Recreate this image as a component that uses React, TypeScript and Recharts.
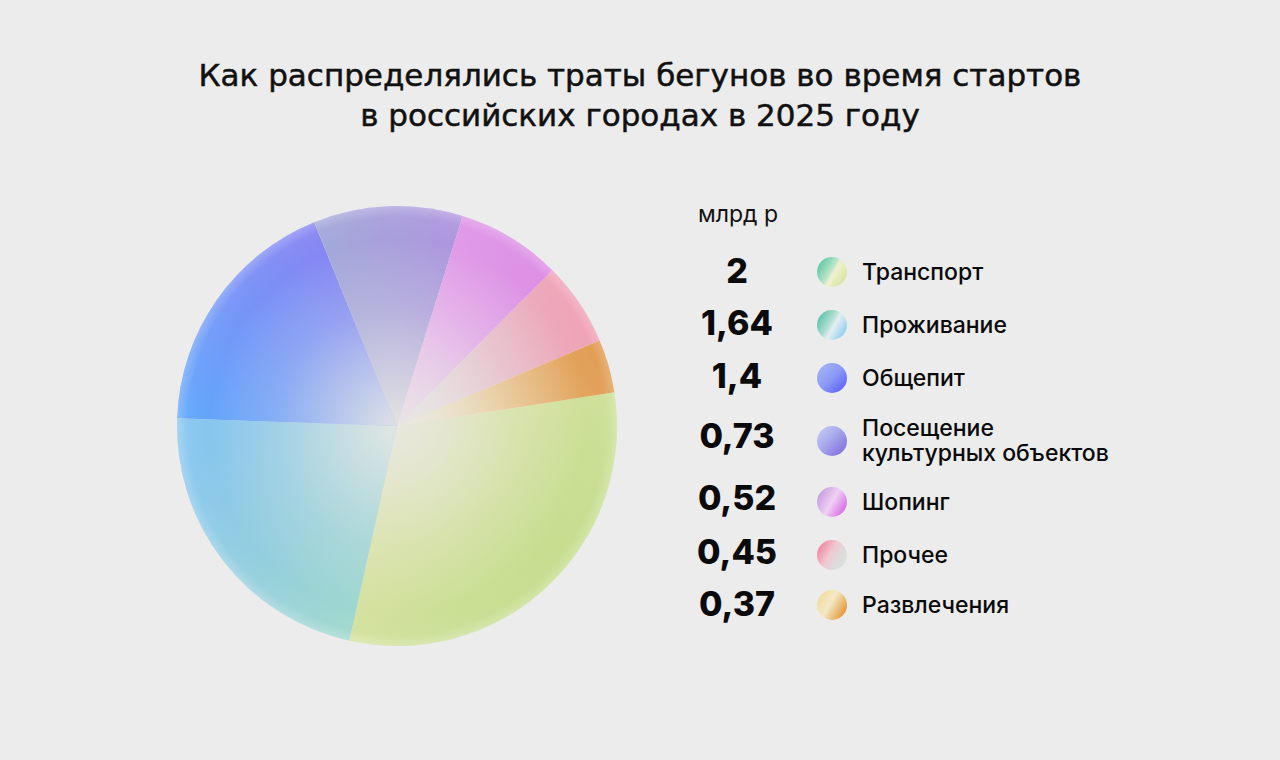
import React from 'react';
import { PieChart, Pie, Cell } from 'recharts';

const categories = ['Транспорт', 'Проживание', 'Общепит', 'Посещение\nкультурных объектов', 'Шопинг', 'Прочее', 'Развлечения'];
const values = [2, 1.64, 1.4, 0.73, 0.52, 0.45, 0.37];
// slice sizes as drawn in the picture (degrees)
const sliceShares = [111.3, 79.5, 65.9, 39.5, 27.6, 22.1, 14.1];
const unitLabel = 'млрд р';
const titleLines = ['Как распределялись траты бегунов во время стартов', 'в российских городах в 2025 году'];

const sliceGradients = [
  { x1: 0, y1: 0, x2: 1, y2: 0.75, from: '#e8e6b4', to: '#bcdb84' },
  { x1: 0, y1: 0.3, x2: 0.8, y2: 1, from: '#88c6ee', to: '#a0d8cc' },
  { x1: 0, y1: 0.9, x2: 0.7, y2: 0, from: '#62a6fc', to: '#8a82f2' },
  { x1: 0, y1: 0.6, x2: 1, y2: 0.3, from: '#a0acd8', to: '#ae96de' },
  { x1: 0, y1: 1, x2: 1, y2: 0, from: '#ecc0f0', to: '#d882e2' },
  { x1: 0, y1: 0.6, x2: 1, y2: 0.3, from: '#e2d6dc', to: '#f09ab0' },
  { x1: 0, y1: 0.6, x2: 1, y2: 0.4, from: '#f0e6bc', to: '#e0964a' },
];

const legendDots = [
  'linear-gradient(120deg, #3fbf9c 0%, #b8e4c8 45%, #f0f0d0 55%, #cfe08c 100%)',
  'linear-gradient(120deg, #3cb89a 0%, #b8e0d8 45%, #e6eef0 55%, #6cc4f2 100%)',
  'linear-gradient(135deg, #a8b8f4 0%, #8a9af6 50%, #5454f8 100%)',
  'linear-gradient(135deg, #c8d0f4 0%, #a8a8ec 45%, #7a60dc 100%)',
  'linear-gradient(120deg, #b88ed8 0%, #f0d0f4 50%, #d04ce0 100%)',
  'linear-gradient(120deg, #f07090 0%, #f0c8d0 45%, #dcdcdc 70%, #e0e0e0 100%)',
  'linear-gradient(120deg, #f0d890 0%, #f4e8c8 45%, #e8b060 75%, #dc7c20 100%)',
];

const numberCenters = [271, 323, 376, 436, 498, 552, 604];
const dotCenters = [272, 325, 378, 441, 502, 555, 605];

const pieData = categories.map((name, i) => ({ name, share: sliceShares[i], value: values[i] }));

const CX = 397;
const CY = 426;
const R = 220;

export default function App() {
  return (
    <div style={{ position: 'absolute', left: 0, top: 0, width: 1280, height: 760, background: '#ececec', overflow: 'hidden' }}>
      <div style={{ position: 'absolute', left: 0, top: 55, width: 1280, textAlign: 'center', fontFamily: '"DejaVu Sans", sans-serif', fontWeight: 400, fontSize: 31, lineHeight: '40px', color: '#111', WebkitTextStroke: '0.5px #111' }}>
        {titleLines.map((l, i) => <div key={i}>{l}</div>)}
      </div>
      <div style={{ position: 'absolute', left: 0, top: 0 }}>
        <PieChart width={1280} height={760} margin={{ top: 0, left: 0, right: 0, bottom: 0 }}>
          <defs>
            {sliceGradients.map((g, i) => (
              <linearGradient key={i} id={`slice${i}`} x1={g.x1} y1={g.y1} x2={g.x2} y2={g.y2}>
                <stop offset="0%" stopColor={g.from} />
                <stop offset="100%" stopColor={g.to} />
              </linearGradient>
            ))}
            <radialGradient id="glow" gradientUnits="userSpaceOnUse" cx={CX} cy={CY} r={R}>
              <stop offset="0%" stopColor="#e8e8e4" stopOpacity={0.92} />
              <stop offset="25%" stopColor="#e8e8e4" stopOpacity={0.6} />
              <stop offset="55%" stopColor="#e8e8e4" stopOpacity={0.22} />
              <stop offset="85%" stopColor="#e8e8e4" stopOpacity={0} />
              <stop offset="95%" stopColor="#ffffff" stopOpacity={0.04} />
              <stop offset="100%" stopColor="#ffffff" stopOpacity={0.25} />
            </radialGradient>
            <filter id="soft" x="-5%" y="-5%" width="110%" height="110%">
              <feGaussianBlur stdDeviation="0.5" />
            </filter>
          </defs>
          <Pie data={pieData} dataKey="share" nameKey="name" cx={CX} cy={CY} outerRadius={R} startAngle={8.8} endAngle={-351.2} stroke="none" isAnimationActive={false} filter="url(#soft)">
            {pieData.map((d, i) => <Cell key={i} fill={`url(#slice${i})`} stroke="none" />)}
          </Pie>
          <Pie data={pieData} dataKey="share" nameKey="name" cx={CX} cy={CY} outerRadius={R} startAngle={8.8} endAngle={-351.2} stroke="none" fill="url(#glow)" isAnimationActive={false}>
            {pieData.map((d, i) => <Cell key={i} fill="url(#glow)" stroke="none" />)}
          </Pie>
        </PieChart>
      </div>
      <div style={{ position: 'absolute', left: 698, top: 199, fontFamily: 'Inter, sans-serif', fontSize: 23, lineHeight: '30px', color: '#111' }}>{unitLabel}</div>
      {categories.map((c, i) => (
        <React.Fragment key={i}>
          <div style={{ position: 'absolute', left: 677, width: 120, top: numberCenters[i] - 25, lineHeight: '50px', textAlign: 'center', fontFamily: 'Inter, sans-serif', fontWeight: 800, fontSize: 34, color: '#0a0a0a' }}>
            {String(values[i]).replace('.', ',')}
          </div>
          <div style={{ position: 'absolute', left: 817, top: dotCenters[i] - 15, width: 30, height: 30, borderRadius: '50%', background: legendDots[i] }} />
          <div style={{ position: 'absolute', left: 862, top: dotCenters[i] - (c.includes('\n') ? 25 : 12.5), lineHeight: '25px', fontFamily: 'Inter, sans-serif', fontWeight: 500, fontSize: 23, color: '#0a0a0a', whiteSpace: 'pre' }}>
            {c}
          </div>
        </React.Fragment>
      ))}
    </div>
  );
}
